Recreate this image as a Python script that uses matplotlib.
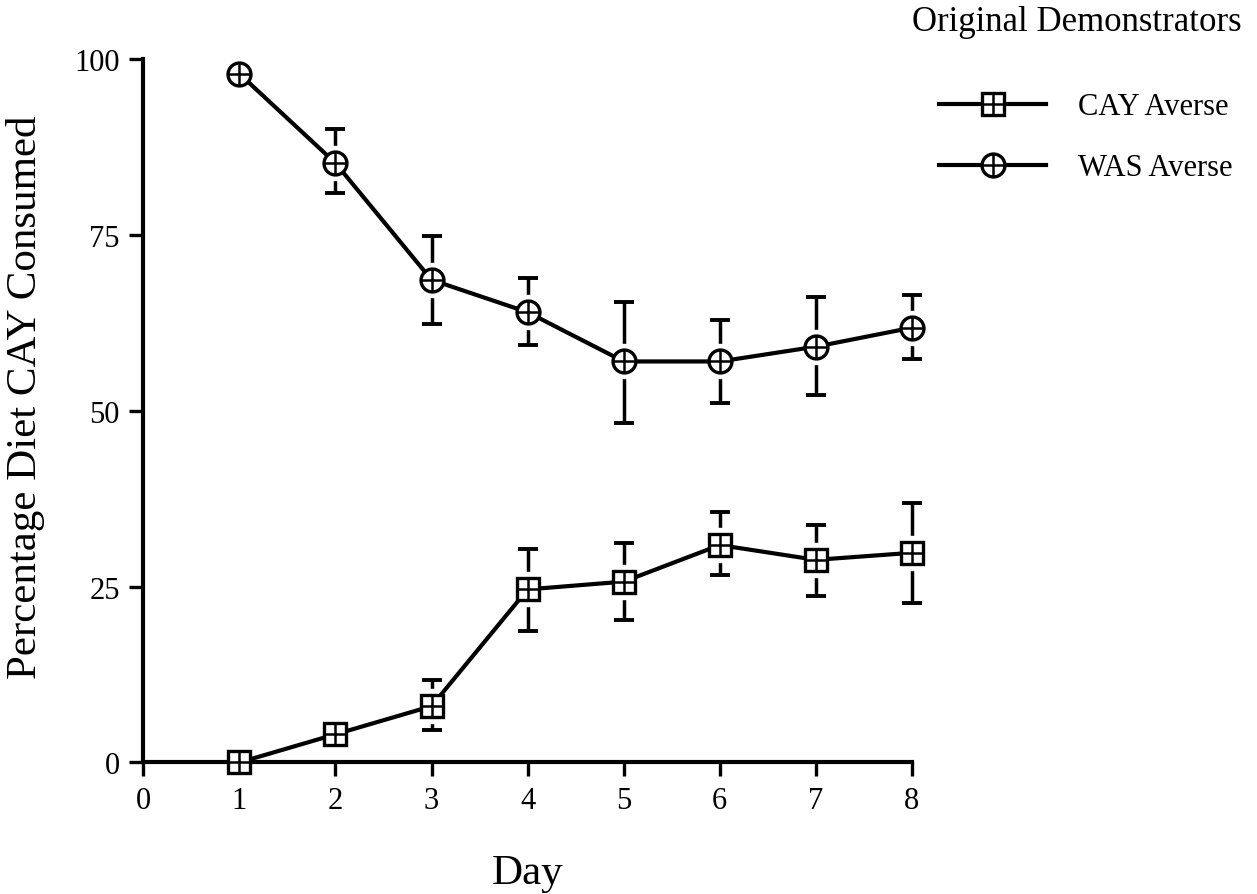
import matplotlib.pyplot as plt
from matplotlib.lines import Line2D

plt.rcParams['font.family'] = ['Liberation Serif', 'DejaVu Serif']

# dados
dias = [1, 2, 3, 4, 5, 6, 7, 8]

cay_media = [0.0, 4.0, 8.0, 24.6, 25.7, 30.9, 28.8, 29.8]
cay_sup = [0.0, 4.0, 11.7, 30.3, 31.2, 35.6, 33.8, 36.9]
cay_inf = [0.0, 4.0, 4.6, 18.7, 20.2, 26.7, 23.6, 22.7]

was_media = [97.9, 85.2, 68.6, 64.0, 57.0, 57.0, 59.1, 61.8]
was_sup = [97.9, 90.1, 74.8, 68.9, 65.5, 62.9, 66.1, 66.4]
was_inf = [97.9, 80.9, 62.3, 59.3, 48.3, 51.1, 52.2, 57.4]

fig = plt.figure(figsize=(12.57, 8.95), dpi=100)
ax = fig.add_axes([0.114, 0.147, 0.6115, 0.786])

ms = 16.5
lw = 3.0
mew = 2.4


def serie(media, sup, inf, marca):
    err = [[m - i for m, i in zip(media, inf)], [s - m for m, s in zip(media, sup)]]
    ax.errorbar(dias, media, yerr=err, fmt='none', ecolor='black', elinewidth=2.5,
                capsize=7, capthick=2.8, zorder=1, clip_on=False)
    # halo branco para separar barras de erro do marcador
    ax.plot(dias, media, linestyle='none', marker=marca, markersize=ms + 8,
            markerfacecolor='white', markeredgecolor='white', zorder=2, clip_on=False)
    ax.plot(dias, media, color='black', lw=lw, zorder=3, clip_on=False)
    ax.plot(dias, media, linestyle='none', marker=marca, markersize=ms,
            markerfacecolor='white', markeredgecolor='black', markeredgewidth=mew,
            zorder=4, clip_on=False)
    ax.plot(dias, media, linestyle='none', marker='+', markersize=ms,
            markeredgecolor='black', markeredgewidth=1.8, zorder=5, clip_on=False)


serie(cay_media, cay_sup, cay_inf, 's')
serie(was_media, was_sup, was_inf, 'o')

ax.set_xlim(0, 8)
ax.set_ylim(0, 100)
ax.set_xticks(range(0, 9))
ax.set_yticks([0, 25, 50, 75, 100])
for lado in ['top', 'right']:
    ax.spines[lado].set_visible(False)
for lado in ['left', 'bottom']:
    ax.spines[lado].set_linewidth(3.0)
ax.tick_params(axis='both', direction='out', length=10, width=2.4, labelsize=22, pad=7)

ax.set_xlabel('Day', fontsize=31, labelpad=28)
ax.set_ylabel('Percentage Diet CAY Consumed', fontsize=31)
ax.yaxis.set_label_coords(-0.128, 0.52)

fig.text(0.988, 0.975, 'Original Demonstrators', fontsize=25, ha='right', va='center')


def alca(marca):
    linha = Line2D([], [], color='black', lw=lw)
    mk = Line2D([], [], linestyle='none', marker=marca, markersize=ms,
                markerfacecolor='white', markeredgecolor='black', markeredgewidth=mew)
    cruz = Line2D([], [], linestyle='none', marker='+', markersize=ms,
                  markeredgecolor='black', markeredgewidth=1.8)
    return (linha, mk, cruz)


fig.legend([alca('s'), alca('o')], ['CAY Averse', 'WAS Averse'],
           loc='upper left', bbox_to_anchor=(0.7255, 0.9264), frameon=False,
           fontsize=22, handlelength=3.5, handletextpad=1.05, labelspacing=1.05)

fig.savefig('out.png', dpi=100)
